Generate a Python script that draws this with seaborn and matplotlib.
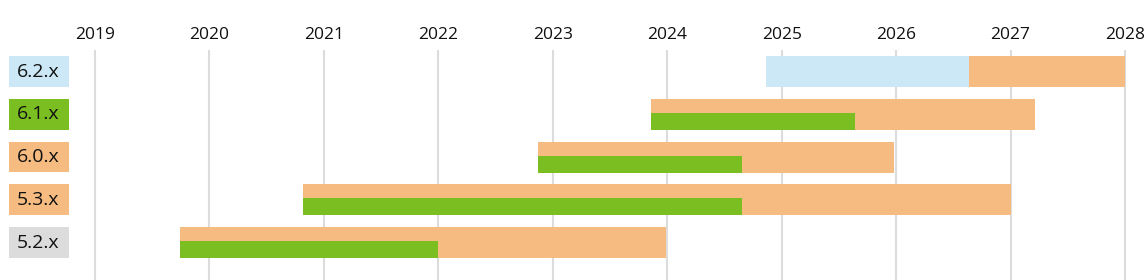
import matplotlib
matplotlib.use("Agg")
import matplotlib.pyplot as plt
import matplotlib.transforms as mtransforms
from matplotlib.patches import Rectangle
import seaborn as sns

# ---- data ----
versions = ["6.2.x", "6.1.x", "6.0.x", "5.3.x", "5.2.x"]
label_colors = ["#cce8f6", "#7abe22", "#f5bb80", "#f5bb80", "#dcdcdc"]
release = [2024.86, 2023.86, 2022.87, 2020.82, 2019.74]
support_end = [2028.0, 2027.21, 2025.98, 2027.0, 2023.99]
active_end = [None, 2025.64, 2024.65, 2024.65, 2022.0]
preview_end = [2026.64, None, None, None, None]
years = list(range(2019, 2029))

ORANGE = "#f5bb80"
GREEN = "#7abe22"
BLUE = "#cce8f6"

sns.set_style("white")
plt.rcParams["font.family"] = ["Open Sans", "DejaVu Sans"]

W, H = 1146, 280
fig = plt.figure(figsize=(W / 100, H / 100), dpi=100)
top_px = 50
ax = fig.add_axes([0, 0, 1, (H - top_px) / H])

x0_px, x1_px = 95, 1125
ppy = (x1_px - x0_px) / 9.0
ax.set_xlim(2019 - x0_px / ppy, 2019 + (W - x0_px) / ppy)

pitch = 42.75
ax.set_ylim(0 + (H - top_px - 21.5) / pitch, -21.5 / pitch)

bar_h = 31 / pitch
green_h = 17 / pitch

for i, v in enumerate(versions):
    ax.barh(i, support_end[i] - release[i], left=release[i], height=bar_h,
            color=ORANGE, linewidth=0, zorder=2)
    if preview_end[i] is not None:
        ax.barh(i, preview_end[i] - release[i], left=release[i], height=bar_h,
                color=BLUE, linewidth=0, zorder=3)
    if active_end[i] is not None:
        yc = i + bar_h / 2 - green_h / 2
        ax.barh(yc, active_end[i] - release[i], left=release[i], height=green_h,
                color=GREEN, linewidth=0, zorder=3)

# label boxes on the left
trans = mtransforms.blended_transform_factory(ax.transAxes, ax.transData)
for i, v in enumerate(versions):
    ax.add_patch(Rectangle((9 / W, i - bar_h / 2), 60 / W, bar_h,
                           transform=trans, color=label_colors[i],
                           linewidth=0, zorder=3, clip_on=False))
    ax.text(17 / W, i, v, transform=trans, ha="left", va="center",
            fontsize=14, color="#111111", zorder=4)

ax.set_xticks(years)
ax.set_xticklabels([str(y) for y in years])
ax.xaxis.tick_top()
ax.tick_params(axis="x", length=0, pad=5, labelsize=12.5, colors="#111111")
ax.set_yticks([])
ax.grid(axis="x", color="#dcdcdc", linewidth=1.5)
ax.grid(axis="y", visible=False)
ax.set_axisbelow(True)
for s in ax.spines.values():
    s.set_visible(False)

fig.savefig("out.png", dpi=100)
